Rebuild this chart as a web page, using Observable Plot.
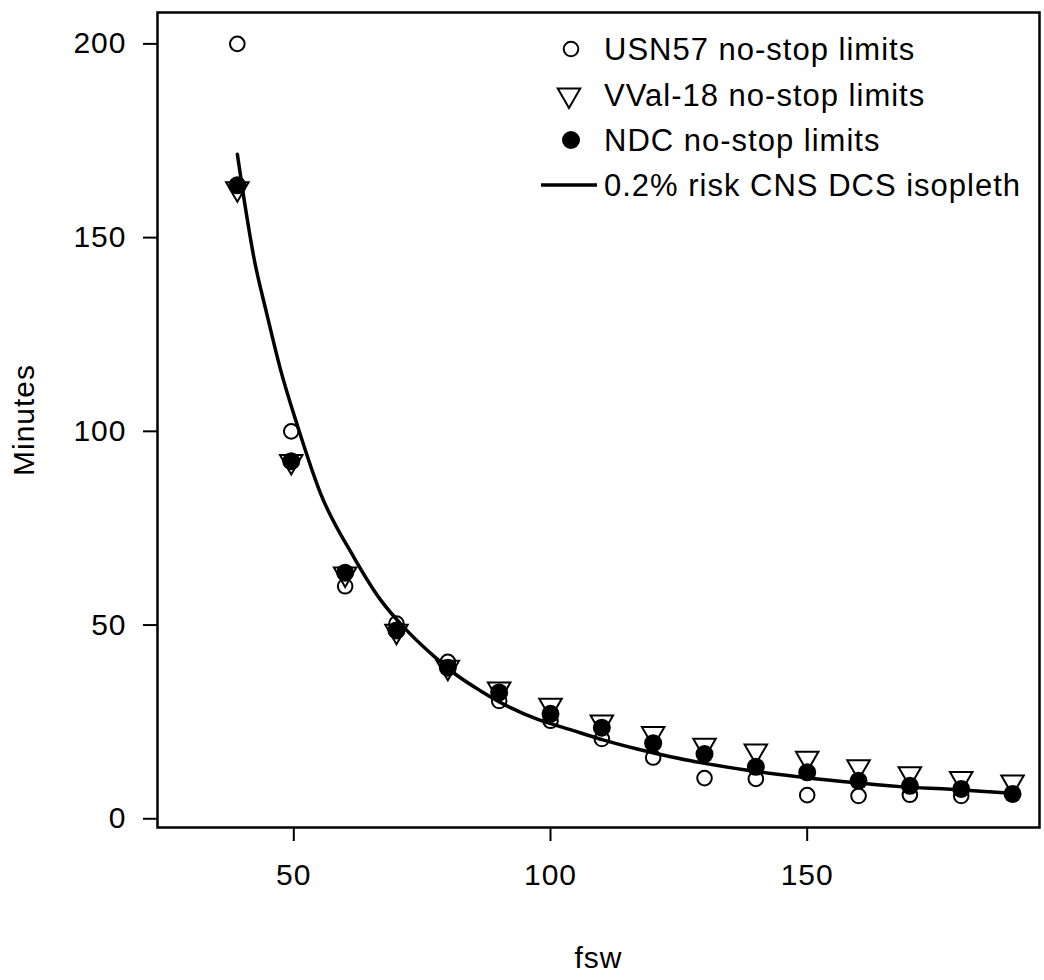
<!DOCTYPE html>
<html><head><meta charset="utf-8">
<script src="https://cdn.jsdelivr.net/npm/d3@7"></script>
<script src="https://cdn.jsdelivr.net/npm/@observablehq/plot@0.6"></script>
<style>
body{margin:0;background:#fff}
#chart{width:1044px;height:980px}
</style>
</head><body><div id="chart"></div>
<script>
// Depths (fsw) of the table points
const depths = [39, 49.5, 60, 70, 80, 90, 100, 110, 120, 130, 140, 150, 160, 170, 180, 190];
// Series values (minutes)
const usn57 = [200, 100, 60, 50.4, 40.5, 30.4, 25.3, 20.6, 15.8, 10.5, 10.3, 6.1, 5.9, 6.2, 5.9, null];
const vval18 = [162.6, 92.2, 63.2, 48.4, 39.1, 33.5, 29.3, 25.0, 22.0, 19.0, 17.5, 15.6, 13.4, 11.6, 10.4, 9.5];
const ndc = [163.5, 92.3, 63.5, 48.6, 39.0, 32.6, 27.1, 23.5, 19.5, 16.7, 13.4, 12.0, 9.8, 8.5, 7.7, 6.4];
// 0.2% risk CNS DCS isopleth
const isoX = [39, 40.3, 42.2, 44.8, 47.4, 50.7, 55.2, 61.7, 66.9, 72.1, 77.6, 81.5, 86.4, 92.2, 97.4, 103.9, 110.4, 116.9, 123.4, 129.2, 139, 148.7, 158.4, 168.1, 177.9, 187.6, 190];
const isoY = [171.5, 160, 145, 130, 116, 101.5, 84, 67.5, 56.5, 48.5, 41.6, 37.3, 33, 28.7, 25.7, 23, 20.3, 18, 16, 14.5, 12.4, 10.8, 9.4, 8.3, 7.6, 6.8, 6.6];
// Ticks and labels
const xTicks = [50, 100, 150];
const yTicks = [0, 50, 100, 150, 200];
const legendLabels = ["USN57 no-stop limits", "VVal-18 no-stop limits", "NDC no-stop limits", "0.2% risk CNS DCS isopleth"];

const usnData = depths.map((d, i) => ({x: d, y: usn57[i]})).filter(d => d.y != null);
const vvalData = depths.map((d, i) => ({x: d, y: vval18[i]}));
const ndcData = depths.map((d, i) => ({x: d, y: ndc[i]}));
const isoData = isoX.map((d, i) => ({x: d, y: isoY[i]}));

const font = "'Liberation Sans', Arial, Helvetica, sans-serif";

const chart = Plot.plot({
  width: 1044,
  height: 980,
  marginLeft: 157,
  marginRight: 5,
  marginTop: 12,
  marginBottom: 153,
  style: {fontFamily: font, fontSize: "30px", color: "#000", background: "#fff", letterSpacing: "1px"},
  x: {domain: [23.45, 195.25]},
  y: {domain: [-2.25, 208.1]},
  marks: [
    Plot.axisX({ticks: xTicks, tickSize: 14, tickPadding: 22, strokeWidth: 2, fontSize: 30,
      label: "fsw", labelAnchor: "center", labelOffset: 140, labelArrow: "none"}),
    Plot.axisY({ticks: yTicks, tickSize: 14, tickPadding: 17, strokeWidth: 2, fontSize: 30,
      label: "Minutes", labelAnchor: "center", labelOffset: 145, labelArrow: "none"}),
    Plot.frame({stroke: "#000", strokeWidth: 2.5}),
    Plot.line(isoData, {x: "x", y: "y", curve: "monotone-x", stroke: "#000", strokeWidth: 3.5}),
    Plot.dot(usnData, {x: "x", y: "y", r: 7.3, stroke: "#000", strokeWidth: 2, fill: "none"}),
    Plot.dot(vvalData, {x: "x", y: "y", symbol: "triangle", rotate: 180, r: 8.35, stroke: "#000", strokeWidth: 2, fill: "none"}),
    Plot.dot(ndcData, {x: "x", y: "y", r: 9, fill: "#000", stroke: "none"})
  ]
});

// Legend inside the plot area (top right)
const svg = d3.select(chart);
const lg = svg.append("g").attr("font-family", font).attr("font-size", 31)
  .attr("letter-spacing", "1px").attr("text-anchor", "start");
const rowY = [49, 95, 140, 185];
const symX = 569, textX = 604;
lg.append("circle").attr("cx", symX + 2).attr("cy", rowY[0]).attr("r", 7.3).attr("fill", "none").attr("stroke", "#000").attr("stroke-width", 2);
lg.append("path").attr("d", d3.symbol(d3.symbolTriangle, Math.PI * 8.35 * 8.35)())
  .attr("transform", `translate(${symX},${rowY[1]}) rotate(180)`).attr("fill", "none").attr("stroke", "#000").attr("stroke-width", 2);
lg.append("circle").attr("cx", symX + 2).attr("cy", rowY[2]).attr("r", 9).attr("fill", "#000");
lg.append("line").attr("x1", 541).attr("x2", 597).attr("y1", rowY[3]).attr("y2", rowY[3]).attr("stroke", "#000").attr("stroke-width", 3.5);
legendLabels.forEach((t, i) => {
  lg.append("text").attr("x", textX).attr("y", rowY[i] + 11).attr("fill", "#000").attr("text-anchor", "start").text(t);
});

document.getElementById("chart").appendChild(chart);
</script>
</body></html>
